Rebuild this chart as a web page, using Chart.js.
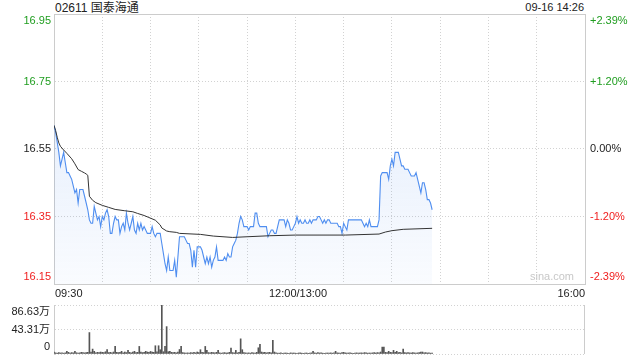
<!DOCTYPE html>
<html>
<head>
<meta charset="utf-8">
<script src="https://cdn.jsdelivr.net/npm/chart.js@4.4.0/dist/chart.umd.min.js"></script>
<style>
    body { margin: 0; width: 640px; height: 360px; overflow: hidden; background: #fff; position: relative;
           font-family: "Liberation Sans", "Noto Sans CJK SC", Arial, sans-serif; }
    canvas { position: absolute; left: 0; }
    .txt { position: absolute; white-space: nowrap; line-height: 1; color: #222; font-size: 11px; }
</style>
</head>
<body>
<div class="txt" style="left:55px; top:2px; font-size:12px;">02611 国泰海通</div>
<div class="txt" style="right:56px; top:2px;">09-16 14:26</div>
<canvas id="price-chart" width="640" height="300" style="top:0"></canvas>
<canvas id="volume-chart" width="640" height="60" style="top:300px"></canvas>
<div class="txt" style="left:55px; top:288px;">09:30</div>
<div class="txt" style="left:269px; top:288px;">12:00/13:00</div>
<div class="txt" style="right:55px; top:288px;">16:00</div>
<div class="txt" style="right:66px; top:271px; color:#c8c8c8;">sina.com</div>
<script>
// Trading session: 09:30-12:00 + 13:00-16:00 = 330 minutes, one point per minute
const totalMinutes = 330;

// Price per minute from 09:30 to 14:25
const prices = [
    16.62, 16.60, 16.57, 16.54, 16.50, 16.52, 16.54, 16.51, 16.48, 16.48,
    16.47, 16.46, 16.44, 16.42, 16.43, 16.39, 16.43, 16.43, 16.43, 16.41,
    16.39, 16.37, 16.34, 16.33, 16.33, 16.38, 16.36, 16.34, 16.35, 16.32,
    16.35, 16.34, 16.36, 16.37, 16.35, 16.30, 16.30, 16.33, 16.35, 16.34,
    16.34, 16.30, 16.32, 16.33, 16.31, 16.36, 16.33, 16.31, 16.33, 16.35,
    16.31, 16.30, 16.33, 16.31, 16.33, 16.31, 16.32, 16.31, 16.30, 16.30,
    16.30, 16.32, 16.30, 16.29, 16.30, 16.30, 16.30, 16.27, 16.24, 16.21,
    16.19, 16.23, 16.19, 16.19, 16.19, 16.22, 16.17, 16.23, 16.29, 16.29,
    16.29, 16.29, 16.28, 16.27, 16.27, 16.25, 16.20, 16.25, 16.20, 16.26,
    16.26, 16.26, 16.25, 16.23, 16.21, 16.23, 16.21, 16.23, 16.20, 16.22,
    16.23, 16.26, 16.22, 16.22, 16.22, 16.22, 16.23, 16.22, 16.24, 16.23,
    16.23, 16.26, 16.27, 16.28, 16.30, 16.33, 16.35, 16.34, 16.32, 16.32,
    16.32, 16.31, 16.32, 16.32, 16.32, 16.36, 16.36, 16.33, 16.32, 16.32,
    16.32, 16.32, 16.32, 16.29, 16.30, 16.31, 16.31, 16.30, 16.30, 16.32,
    16.34, 16.34, 16.34, 16.34, 16.32, 16.34, 16.33, 16.31, 16.31, 16.32,
    16.33, 16.35, 16.33, 16.34, 16.33, 16.33, 16.34, 16.33, 16.33, 16.34,
    16.33, 16.34, 16.34, 16.34, 16.35, 16.35, 16.34, 16.33, 16.34, 16.33,
    16.34, 16.34, 16.33, 16.33, 16.33, 16.33, 16.33, 16.32, 16.32, 16.30,
    16.33, 16.32, 16.31, 16.34, 16.34, 16.34, 16.34, 16.34, 16.34, 16.34,
    16.34, 16.34, 16.33, 16.32, 16.33, 16.32, 16.34, 16.32, 16.32, 16.32,
    16.32, 16.32, 16.34, 16.47, 16.48, 16.48, 16.48, 16.48, 16.46, 16.50,
    16.52, 16.50, 16.54, 16.54, 16.54, 16.52, 16.50, 16.50, 16.49, 16.49,
    16.49, 16.48, 16.47, 16.47, 16.47, 16.48, 16.46, 16.44, 16.42, 16.45,
    16.45, 16.43, 16.40, 16.40, 16.39, 16.37
];

// Average price line (minute, value) at its turning points
const avgTimes = [
    0, 1, 2, 3, 4, 6, 8, 11, 13, 15, 17, 19, 20, 21, 22, 24, 26, 30, 34, 38,
    44, 49, 52, 56, 59, 63, 66, 67, 70, 72, 76, 78, 91, 99, 111, 120, 134, 150, 181, 202,
    206, 210, 217, 235
];
const avgValues = [
    16.620, 16.605, 16.585, 16.568, 16.558, 16.547, 16.537, 16.521, 16.506, 16.489,
    16.484, 16.479, 16.476, 16.472, 16.410, 16.398, 16.391, 16.383, 16.377, 16.371,
    16.367, 16.364, 16.359, 16.353, 16.347, 16.339, 16.325, 16.316, 16.307, 16.305,
    16.303, 16.300, 16.297, 16.292, 16.288, 16.290, 16.293, 16.295, 16.295, 16.298,
    16.304, 16.308, 16.312, 16.315
];

// Volume per minute, in 万 shares
const volumes = [
    3.5, 2.0, 1.5, 2.5, 1.8, 2.2, 1.5, 2.0, 4.7, 3.0,
    1.8, 2.5, 2.0, 4.7, 2.2, 1.8, 2.0, 3.0, 2.5, 2.0,
    2.5, 3.0, 37.9, 3.5, 8.7, 4.7, 2.0, 3.0, 2.5, 3.5,
    3.0, 2.5, 4.0, 7.6, 2.5, 3.0, 2.0, 3.5, 13.4, 3.0,
    2.5, 3.0, 4.7, 2.0, 3.5, 2.5, 6.4, 3.0, 2.0, 3.5,
    4.7, 2.5, 3.0, 13.4, 3.5, 2.5, 3.0, 4.7, 3.5, 3.0,
    4.5, 3.5, 3.0, 14.6, 4.0, 14.6, 7.6, 86.63, 4.0, 13.4,
    48.4, 4.0, 4.7, 3.0, 2.5, 3.0, 2.0, 3.5, 8.0, 13.4,
    2.5, 2.0, 1.5, 2.0, 1.8, 2.5, 2.0, 3.0, 2.0, 3.5,
    2.5, 7.6, 3.0, 2.5, 13.4, 6.4, 2.5, 2.0, 3.0, 2.5,
    2.0, 3.0, 6.4, 2.0, 1.5, 2.0, 2.5, 1.8, 2.0, 3.0,
    10.5, 2.5, 2.0, 6.4, 2.0, 3.0, 26.8, 7.6, 2.5, 2.0,
    1.8, 2.0, 1.5, 2.5, 2.0, 1.8, 3.0, 11.0, 17.0, 3.5,
    2.5, 3.0, 2.0, 2.5, 3.0, 2.0, 24.0, 3.5, 2.0, 1.5,
    1.5, 2.0, 1.2, 1.5, 1.8, 1.5, 1.2, 2.0, 1.5, 1.8,
    1.5, 1.2, 1.8, 2.0, 1.5, 1.2, 1.5, 1.8, 1.2, 1.5,
    2.0, 4.7, 2.0, 1.5, 2.5, 1.8, 2.0, 1.5, 1.2, 1.5,
    1.8, 1.5, 2.0, 1.5, 2.0, 4.7, 2.0, 1.8, 1.5, 2.5,
    3.0, 2.0, 1.5, 1.8, 2.0, 1.5, 1.2, 1.8, 2.0, 1.5,
    1.8, 2.0, 1.5, 2.5, 2.0, 1.5, 1.8, 1.5, 2.0, 2.5,
    1.8, 2.5, 2.0, 3.5, 12.2, 12.2, 3.0, 2.5, 4.7, 3.0,
    2.5, 6.4, 3.0, 4.7, 2.5, 3.0, 2.0, 8.7, 2.5, 2.0,
    2.5, 2.0, 1.8, 2.5, 2.0, 1.5, 2.0, 2.5, 3.5, 3.5,
    2.0, 2.5, 1.8, 2.0, 1.5, 1.8
];

// Axis ticks (ascending)
const priceTicks = [16.15, 16.35, 16.55, 16.75, 16.95];
const priceLabels = ["16.15", "16.35", "16.55", "16.75", "16.95"];
const pctLabels = ["-2.39%", "-1.20%", "0.00%", "+1.20%", "+2.39%"];
const tickColors = ["#f02020", "#f02020", "#222", "#1f9d1f", "#1f9d1f"];
const volTicks = [0, 43.31, 86.63];
const volLabels = ["0", "43.31万", "86.63万"];

Chart.defaults.font.family = '"Liberation Sans", "Noto Sans CJK SC", Arial, sans-serif';
Chart.defaults.font.size = 11;

const gridColor = "#d2d2d2";
const frameColor = "#cccccc";

// top / bottom labels sit inside the plot, like the original
function edgeLabel(text, i, n) {
    if (i === 0) return [text, ""];
    if (i === n - 1) return ["", text];
    return text;
}

function frameLines(sides) {
    return {
        id: "frame",
        afterDraw(chart) {
            const { ctx, chartArea: a } = chart;
            ctx.save();
            ctx.strokeStyle = frameColor;
            ctx.lineWidth = 1;
            ctx.beginPath();
            if (sides.includes("top")) { ctx.moveTo(a.left, a.top + 0.5); ctx.lineTo(a.right, a.top + 0.5); }
            if (sides.includes("right")) { ctx.moveTo(a.right - 0.5, a.top); ctx.lineTo(a.right - 0.5, a.bottom); }
            ctx.stroke();
            ctx.restore();
        }
    };
}

function fixWidth(w) {
    return scale => { scale.width = w; scale.paddingTop = 0; scale.paddingBottom = 0; };
}

// Price chart
new Chart(document.getElementById("price-chart"), {
    type: "line",
    data: {
        datasets: [
            {
                data: avgTimes.map((t, i) => ({ x: t, y: avgValues[i] })),
                borderColor: "#333",
                borderWidth: 1,
                pointRadius: 0,
                fill: false,
                order: 0
            },
            {
                data: prices.map((p, i) => ({ x: i, y: p })),
                borderColor: "#4f8ef0",
                borderWidth: 1.1,
                pointRadius: 0,
                fill: "start",
                backgroundColor: ctx => {
                    const area = ctx.chart.chartArea;
                    if (!area) return "rgba(80,140,235,0.1)";
                    const g = ctx.chart.ctx.createLinearGradient(0, area.top, 0, area.bottom);
                    g.addColorStop(0, "rgba(80,140,235,0.2)");
                    g.addColorStop(1, "rgba(80,140,235,0.03)");
                    return g;
                },
                order: 1
            }
        ]
    },
    options: {
        responsive: false,
        animation: false,
        events: [],
        layout: { padding: { top: 14, left: 0, right: 0, bottom: 0 } },
        plugins: { legend: { display: false }, tooltip: { enabled: false } },
        scales: {
            x: {
                type: "linear", min: 0, max: totalMinutes, offset: false,
                ticks: { display: false, stepSize: 30 },
                grid: { color: gridColor, drawTicks: false },
                border: { color: frameColor, dash: [1, 2] },
                afterFit: scale => { scale.height = 16; scale.paddingLeft = 0; scale.paddingRight = 0; }
            },
            y: {
                type: "linear", position: "left",
                min: priceTicks[0], max: priceTicks[priceTicks.length - 1],
                afterBuildTicks: scale => { scale.ticks = priceTicks.map(v => ({ value: v })); },
                ticks: {
                    padding: 3,
                    autoSkip: false,
                    color: ctx => tickColors[ctx.index],
                    callback: (v, i) => edgeLabel(priceLabels[i], i, priceLabels.length)
                },
                grid: { color: gridColor, drawTicks: false },
                border: { color: frameColor, dash: [1, 2] },
                afterFit: fixWidth(54)
            },
            pct: {
                type: "linear", position: "right",
                min: priceTicks[0], max: priceTicks[priceTicks.length - 1],
                afterBuildTicks: scale => { scale.ticks = priceTicks.map(v => ({ value: v })); },
                ticks: {
                    padding: 5,
                    autoSkip: false,
                    color: ctx => tickColors[ctx.index],
                    callback: (v, i) => edgeLabel(pctLabels[i], i, pctLabels.length)
                },
                grid: { display: false, drawTicks: false },
                border: { color: frameColor },
                afterFit: fixWidth(55)
            }
        }
    },
    plugins: [frameLines(["top"])]
});

// Volume chart
new Chart(document.getElementById("volume-chart"), {
    type: "bar",
    data: {
        datasets: [{
            data: volumes.map((v, i) => ({ x: i, y: v })),
            backgroundColor: "#555",
            borderWidth: 0,
            barThickness: 1
        }]
    },
    options: {
        responsive: false,
        animation: false,
        events: [],
        layout: { padding: { top: 5, bottom: 6, left: 0, right: 55 } },
        plugins: { legend: { display: false }, tooltip: { enabled: false } },
        scales: {
            x: { type: "linear", min: 0, max: totalMinutes, offset: false, display: false },
            y: {
                min: 0, max: volTicks[volTicks.length - 1],
                afterBuildTicks: scale => { scale.ticks = volTicks.map(v => ({ value: v })); },
                ticks: {
                    padding: 4,
                    autoSkip: false,
                    color: "#222",
                    callback: (v, i) => edgeLabel(volLabels[i], i, volLabels.length)
                },
                grid: { color: gridColor, drawTicks: false },
                border: { color: frameColor, dash: [1, 2] },
                afterFit: fixWidth(54)
            }
        }
    },
    plugins: [frameLines(["right"])]
});
</script>
</body>
</html>
